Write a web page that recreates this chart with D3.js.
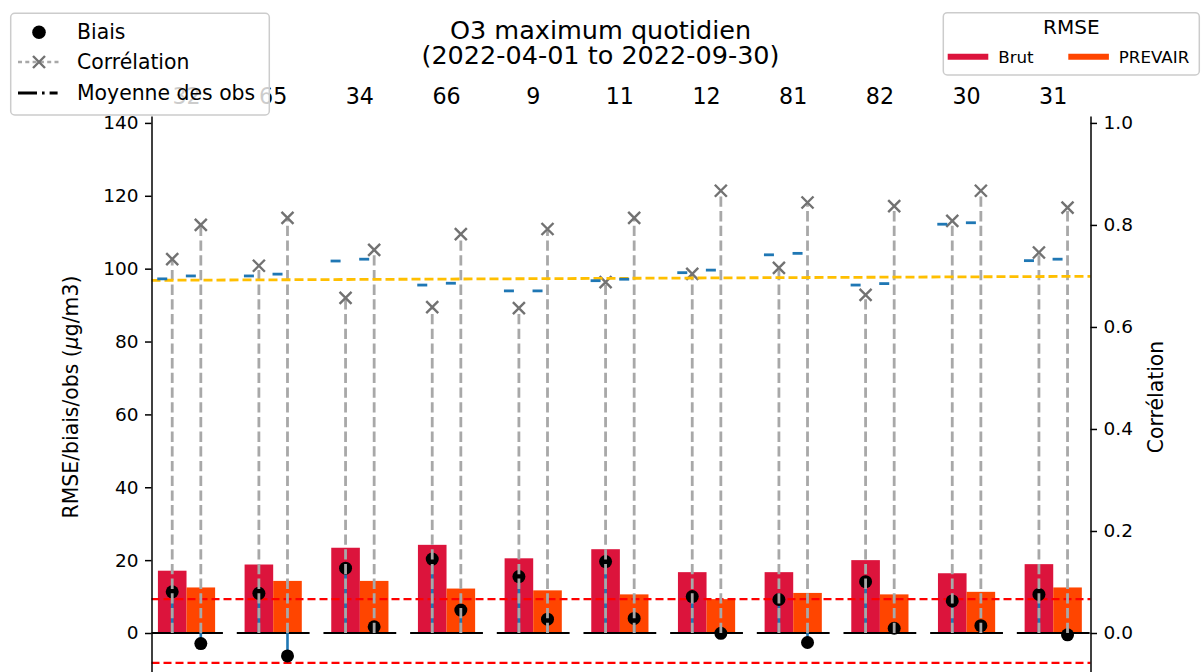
<!DOCTYPE html>
<html>
<head>
<meta charset="utf-8">
<script src="https://cdn.jsdelivr.net/npm/d3@7"></script>
<style>
  body { margin: 0; background: #fff; }
  svg { display: block; font-family: "DejaVu Sans", sans-serif; }
</style>
</head>
<body>
<svg id="chart" width="1201" height="672"></svg>
<script>
// values
const stations = ["32", "65", "34", "66", "9", "11", "12", "81", "82", "30", "31"];
const rmseBrut = [17.1, 18.8, 23.4, 24.2, 20.5, 23.0, 16.7, 16.7, 20.0, 16.4, 18.9];
const rmsePrevair = [12.5, 14.3, 14.3, 12.2, 11.7, 10.6, 9.3, 11.0, 10.6, 11.3, 12.5];
const biasBrut = [11.3, 10.9, 17.8, 20.3, 15.5, 19.6, 10.0, 9.2, 14.1, 8.8, 10.6];
const biasPrevair = [-2.9, -6.3, 1.7, 6.3, 3.8, 4.0, -0.1, -2.6, 1.3, 2.0, -0.5];
const corrBrut = [0.733, 0.720, 0.657, 0.639, 0.637, 0.688, 0.704, 0.716, 0.663, 0.808, 0.746];
const corrPrevair = [0.800, 0.814, 0.751, 0.782, 0.792, 0.814, 0.867, 0.844, 0.837, 0.867, 0.834];
const obsBrut = [97.2, 98.0, 102.1, 95.5, 93.9, 96.7, 98.9, 103.8, 95.5, 112.2, 102.2];
const obsPrevair = [98.0, 98.5, 102.6, 96.0, 93.9, 97.1, 99.6, 104.2, 95.9, 112.6, 102.6];
const redLimits = [9.3, -8.2];
const goldLine = [96.8, 97.9];   // value at left and right edge
const leftTicks = [0, 20, 40, 60, 80, 100, 120, 140];
const rightTicks = [0, 0.2, 0.4, 0.6, 0.8, 1.0];

const svg = d3.select("#chart");
const font = "DejaVu Sans";

const xDom = [-0.404, 10.43];
const x = d3.scaleLinear().domain(xDom).range([151.5, 1090.5]);
const yDom = [-12.35, 141.9];
const y = d3.scaleLinear().domain(yDom).range([678, 116]);
const y2 = d3.scaleLinear().domain([yDom[0] / 140, yDom[1] / 140]).range([678, 116]);

const barW = 0.33;
const idx = stations.map((d, i) => i);

// station ids above the plot
svg.append("g").selectAll("text")
  .data(stations)
  .join("text")
    .attr("x", (d, i) => x(i))
    .attr("y", 104.3)
    .attr("text-anchor", "middle")
    .attr("font-size", "22.2px")
    .attr("font-family", font)
    .text(d => d);

const plot = svg.append("g");

// RMSE bars
plot.selectAll(".brut")
  .data(rmseBrut)
  .join("rect")
    .attr("class", "brut")
    .attr("x", (d, i) => x(i - barW))
    .attr("width", x(barW) - x(0))
    .attr("y", d => y(d))
    .attr("height", d => y(0) - y(d))
    .attr("fill", "#DC143C");

plot.selectAll(".prev")
  .data(rmsePrevair)
  .join("rect")
    .attr("class", "prev")
    .attr("x", (d, i) => x(i))
    .attr("width", x(barW) - x(0))
    .attr("y", d => y(d))
    .attr("height", d => y(0) - y(d))
    .attr("fill", "#FF4500");

// red limit lines
plot.selectAll(".lim")
  .data(redLimits)
  .join("line")
    .attr("x1", x(xDom[0])).attr("x2", x(xDom[1]))
    .attr("y1", d => y(d)).attr("y2", d => y(d))
    .attr("stroke", "#ff0000")
    .attr("stroke-width", 2.4)
    .attr("stroke-dasharray", "8,4");

// black zero line for each group
plot.selectAll(".base")
  .data(idx)
  .join("line")
    .attr("x1", i => x(Math.max(i - 0.42, xDom[0])))
    .attr("x2", i => x(Math.min(i + 0.42, xDom[1])))
    .attr("y1", y(0)).attr("y2", y(0))
    .attr("stroke", "#000")
    .attr("stroke-width", 2.2);

// bias stems and dots
const bias = [];
idx.forEach(i => {
  bias.push({ xv: i - barW / 2, v: biasBrut[i] });
  bias.push({ xv: i + barW / 2, v: biasPrevair[i] });
});

plot.selectAll(".bstem")
  .data(bias)
  .join("line")
    .attr("x1", d => x(d.xv)).attr("x2", d => x(d.xv))
    .attr("y1", y(0)).attr("y2", d => y(d.v))
    .attr("stroke", "#1f77b4")
    .attr("stroke-width", 2.6);

plot.selectAll(".bdot")
  .data(bias)
  .join("circle")
    .attr("cx", d => x(d.xv))
    .attr("cy", d => y(d.v))
    .attr("r", 6.5)
    .attr("fill", "#000");

// correlation stems (right axis)
const corr = [];
idx.forEach(i => {
  corr.push({ xv: i - barW / 2, v: corrBrut[i] });
  corr.push({ xv: i + barW / 2, v: corrPrevair[i] });
});

plot.selectAll(".cstem")
  .data(corr)
  .join("line")
    .attr("x1", d => x(d.xv)).attr("x2", d => x(d.xv))
    .attr("y1", y2(0)).attr("y2", d => y2(d.v))
    .attr("stroke", "#a8a8a8")
    .attr("stroke-width", 2.8)
    .attr("stroke-dasharray", "10.3,4.4");

const xMark = "M-6,-6L6,6M-6,6L6,-6";
plot.selectAll(".cmark")
  .data(corr)
  .join("path")
    .attr("d", xMark)
    .attr("transform", d => `translate(${x(d.xv)},${y2(d.v)})`)
    .attr("fill", "none")
    .attr("stroke", "#727272")
    .attr("stroke-width", 2.4);

// gold dashed line
plot.append("line")
  .attr("x1", x(xDom[0])).attr("x2", x(xDom[1]))
  .attr("y1", y(goldLine[0])).attr("y2", y(goldLine[1]))
  .attr("stroke", "#FFBF00")
  .attr("stroke-width", 2.8)
  .attr("stroke-dasharray", "9,4");

// mean obs markers
const obs = [];
idx.forEach(i => {
  obs.push({ xv: i - 0.28, v: obsBrut[i] });
  obs.push({ xv: i + 0.05, v: obsPrevair[i] });
});

plot.selectAll(".obs")
  .data(obs)
  .join("line")
    .attr("x1", d => x(d.xv) - 5).attr("x2", d => x(d.xv) + 5)
    .attr("y1", d => y(d.v)).attr("y2", d => y(d.v))
    .attr("stroke", "#1f77b4")
    .attr("stroke-width", 2.8);

// axes
function styleAxis(g) {
  g.select(".domain").attr("stroke", "#000").attr("stroke-width", 1.5);
  g.selectAll(".tick line").attr("stroke", "#000").attr("stroke-width", 1.5);
  g.selectAll(".tick text")
    .attr("fill", "#000")
    .attr("font-size", "18.5px")
    .attr("font-family", font);
}

svg.append("g")
  .attr("transform", `translate(${x(xDom[0])},0)`)
  .call(d3.axisLeft(y).tickValues(leftTicks).tickSize(6.5).tickPadding(6.5).tickSizeOuter(0))
  .call(styleAxis);

svg.append("g")
  .attr("transform", `translate(${x(xDom[1])},0)`)
  .call(d3.axisRight(y2).tickValues(rightTicks).tickFormat(d3.format(".1f"))
    .tickSize(6.5).tickPadding(6.5).tickSizeOuter(0))
  .call(styleAxis);

// axis labels
const yl = svg.append("text")
  .attr("transform", "translate(77.5,397) rotate(-90)")
  .attr("text-anchor", "middle")
  .attr("font-size", "20.4px")
  .attr("font-family", font);
yl.append("tspan").text("RMSE/biais/obs (");
yl.append("tspan").attr("font-style", "italic").text("μ");
yl.append("tspan").text("g/m3)");

svg.append("text")
  .attr("transform", "translate(1163,397) rotate(-90)")
  .attr("text-anchor", "middle")
  .attr("font-size", "20.4px")
  .attr("font-family", font)
  .text("Corrélation");

// title
svg.append("text")
  .attr("x", 600.5).attr("y", 38.5)
  .attr("text-anchor", "middle")
  .attr("font-size", "25.5px")
  .attr("font-family", font)
  .text("O3 maximum quotidien");
svg.append("text")
  .attr("x", 600.5).attr("y", 63.5)
  .attr("text-anchor", "middle")
  .attr("font-size", "25.5px")
  .attr("font-family", font)
  .text("(2022-04-01 to 2022-09-30)");

// left legend
const lg = svg.append("g");
lg.append("rect")
  .attr("x", 10.7).attr("y", 13.3)
  .attr("width", 258.6).attr("height", 101.7)
  .attr("rx", 4)
  .attr("fill", "#fff").attr("fill-opacity", 0.8)
  .attr("stroke", "#cccccc").attr("stroke-width", 1.5);

const rows = [32.3, 62, 93];
lg.append("circle").attr("cx", 39).attr("cy", rows[0]).attr("r", 6.8).attr("fill", "#000");
lg.append("line")
  .attr("x1", 18).attr("x2", 60).attr("y1", rows[1]).attr("y2", rows[1])
  .attr("stroke", "#a8a8a8").attr("stroke-width", 2.4).attr("stroke-dasharray", "4,3.3");
lg.append("path")
  .attr("d", xMark)
  .attr("transform", `translate(39,${rows[1]})`)
  .attr("fill", "none").attr("stroke", "#727272").attr("stroke-width", 2.4);
lg.append("line")
  .attr("x1", 18).attr("x2", 57.6).attr("y1", rows[2]).attr("y2", rows[2])
  .attr("stroke", "#000").attr("stroke-width", 2.8).attr("stroke-dasharray", "19,5,2.6,5,8");

lg.selectAll(".lt")
  .data(["Biais", "Corrélation", "Moyenne des obs"])
  .join("text")
    .attr("x", 77)
    .attr("y", (d, i) => rows[i] + 7)
    .attr("font-size", "20.4px")
    .attr("font-family", font)
    .text(d => d);

// right legend (RMSE)
const rg = svg.append("g");
rg.append("rect")
  .attr("x", 943.3).attr("y", 12.7)
  .attr("width", 256).attr("height", 62.3)
  .attr("rx", 4)
  .attr("fill", "#fff").attr("fill-opacity", 0.8)
  .attr("stroke", "#cccccc").attr("stroke-width", 1.5);
rg.append("text")
  .attr("x", 1071.3).attr("y", 34.3)
  .attr("text-anchor", "middle")
  .attr("font-size", "20px")
  .attr("font-family", font)
  .text("RMSE");

const rmseKeys = [
  { name: "Brut", color: "#DC143C", x0: 947.7 },
  { name: "PREVAIR", color: "#FF4500", x0: 1068.3 }
];
rg.selectAll(".rh")
  .data(rmseKeys)
  .join("line")
    .attr("x1", d => d.x0).attr("x2", d => d.x0 + 40.6)
    .attr("y1", 56.7).attr("y2", 56.7)
    .attr("stroke", d => d.color)
    .attr("stroke-width", 6);
rg.selectAll(".rt")
  .data(rmseKeys)
  .join("text")
    .attr("x", d => d.x0 + 50.5)
    .attr("y", 62.8)
    .attr("font-size", "16.7px")
    .attr("font-family", font)
    .text(d => d.name);
</script>
</body>
</html>
